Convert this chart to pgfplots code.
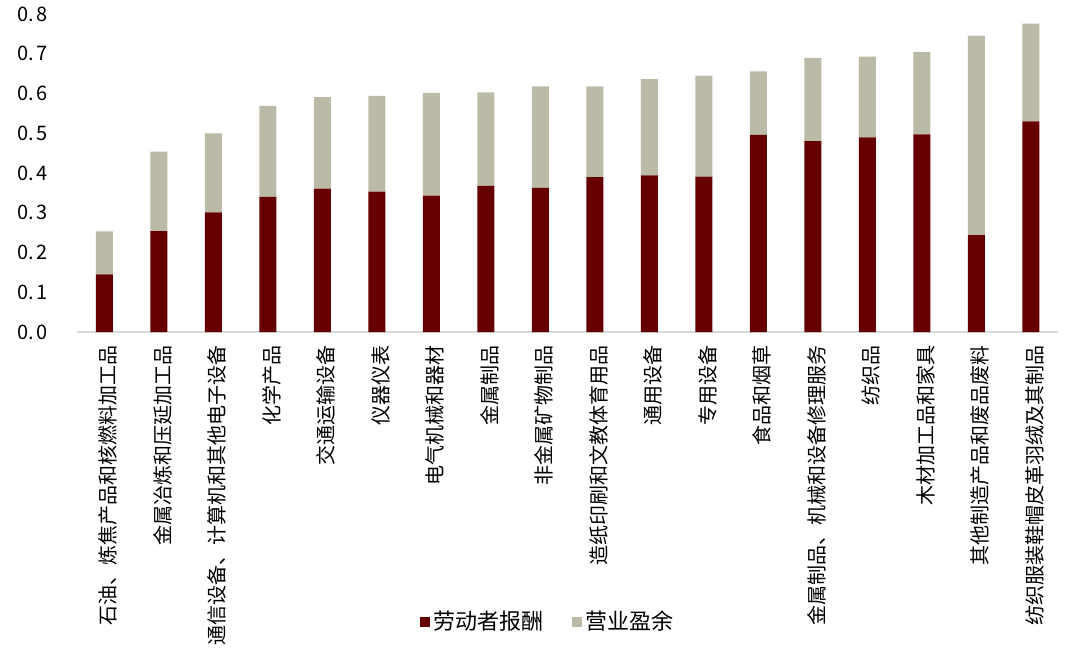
\documentclass[border=0pt]{standalone}
\usepackage{fontspec}
\setmainfont{Noto Sans CJK SC}
\usepackage{pgfplots}
\usepackage{pgfplotstable}
\pgfplotsset{compat=1.18}
\definecolor{labred}{HTML}{660000}
\definecolor{opgray}{HTML}{BBBAA6}
\definecolor{axgray}{HTML}{D9D9D9}
\pgfplotstableread{
x labor surplus
0  0.145 0.108
1  0.254 0.200
2  0.301 0.199
3  0.340 0.229
4  0.361 0.230
5  0.353 0.241
6  0.343 0.259
7  0.368 0.235
8  0.363 0.255
9  0.390 0.228
10 0.394 0.242
11 0.391 0.254
12 0.496 0.160
13 0.480 0.210
14 0.490 0.203
15 0.497 0.208
16 0.244 0.502
17 0.530 0.246
}\datatable
\begin{document}
\begin{tikzpicture}
\path (0,0) rectangle (540pt,324pt);
\begin{axis}[
  at={(38.5pt,159.5pt)}, anchor=south west,
  scale only axis, width=490.5pt, height=159pt,
  ybar stacked, bar width=8.5pt,
  xmin=-0.5, xmax=17.5, ymin=0, ymax=0.8,
  axis lines*=left,
  y axis line style={draw=none},
  x axis line style={draw=axgray, line width=1pt, -},
  major tick length=0pt,
  xtick={0,...,17},
  xticklabels={石油、炼焦产品和核燃料加工品,金属冶炼和压延加工品,通信设备、计算机和其他电子设备,化学产品,交通运输设备,仪器仪表,电气机械和器材,金属制品,非金属矿物制品,造纸印刷和文教体育用品,通用设备,专用设备,食品和烟草,金属制品、机械和设备修理服务,纺织品,木材加工品和家具,其他制造产品和废品废料,纺织服装鞋帽皮革羽绒及其制品},
  xticklabel style={rotate=90, anchor=east, yshift=-2pt, xshift=-3pt, font=\fontsize{10}{12}\selectfont},
  ytick={0,0.1,...,0.8},
  yticklabels={0.\hspace{1.5pt}0,0.\hspace{1.5pt}1,0.\hspace{1.5pt}2,0.\hspace{1.5pt}3,0.\hspace{1.5pt}4,0.\hspace{1.5pt}5,0.\hspace{1.5pt}6,0.\hspace{1.5pt}7,0.\hspace{1.5pt}8},
  yticklabel style={anchor=east, xshift=-11pt, font=\fontsize{10}{12}\selectfont},
  legend style={at={(0.481,-0.912)}, anchor=center, draw=none, fill=none,
    legend columns=2, font=\fontsize{11}{13}\selectfont,
    /tikz/every even column/.append style={column sep=12pt}},
  legend image code/.code={\fill[#1] (0pt,-2.5pt) rectangle (5pt,2.5pt);},
]
\addplot[fill=labred, draw=none] table[x=x, y=labor] {\datatable};
\addplot[fill=opgray, draw=none] table[x=x, y=surplus] {\datatable};
\legend{劳动者报酬,营业盈余}
\end{axis}
\end{tikzpicture}
\end{document}
